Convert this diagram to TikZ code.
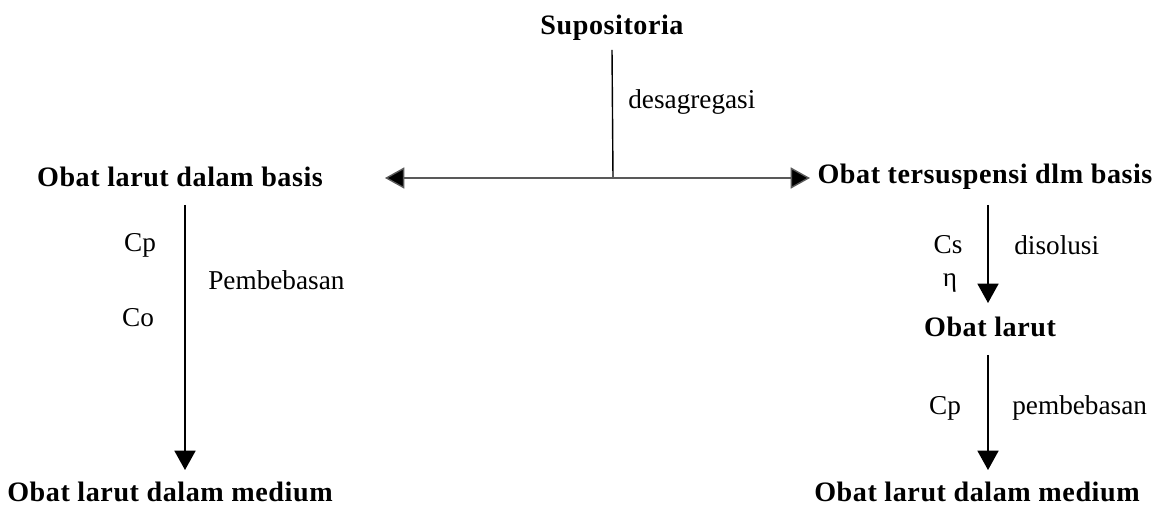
\documentclass[tikz,border=0pt]{standalone}
\usepackage{fontspec}
\setmainfont{Liberation Serif}
\newfontfamily\spaced[LetterSpace=2]{Liberation Serif}
\usetikzlibrary{arrows.meta}

\begin{document}
\begin{tikzpicture}[x=0.02cm, y=-0.02cm,
  box/.style = {font=\fontsize{16}{19}\spaced\bfseries, inner sep=0pt},
  lbl/.style = {font=\fontsize{15.5}{18}\selectfont, inner sep=0pt},
  flow/.style = {thick, -{Triangle[length=11pt, width=12pt]}}]
\useasboundingbox (0,0) rectangle (1159,509);
\node[box] (sup) at (612,28) {Supositoria};
\node[box] (b1) at (180,177) {Obat larut dalam basis};
\node[box] (b2) at (985,177) {Obat tersuspensi dlm basis};
\node[box] (m1) at (170,492) {Obat larut dalam medium};
\node[box] (lr) at (990,327) {Obat larut};
\node[box] (m2) at (977,492) {Obat larut dalam medium};
\coordinate (mid) at (613,178);
\coordinate (l) at (385,178);
\coordinate (r) at (810,178);
\draw[thick] (mid) -- (sup.south |- 0,50);
\draw[thick, gray!70!black, {Triangle[length=11pt, width=12pt, fill=black]}-{Triangle[length=11pt, width=12pt, fill=black]}] (l) -- (r);
\node[lbl, anchor=west] (des) at (628,102) {desagregasi};
\draw[flow] (185,205) -- (185,470);
\node[lbl] (cp1) at (140,245) {Cp};
\node[lbl] (co) at (138,318) {Co};
\node[lbl, anchor=west] (pem1) at (208,280) {Pembebasan};
\draw[flow] (988,205) -- (988,303);
\node[lbl] (cs) at (948,245) {Cs};
\node[lbl] (eta) at (950,283) {η};
\node[lbl, anchor=west] (dis) at (1014,245) {disolusi};
\draw[flow] (988,355) -- (988,470);
\node[lbl] (cp2) at (945,408) {Cp};
\node[lbl, anchor=west] (pem2) at (1012,408) {pembebasan};
\end{tikzpicture}
\end{document}
